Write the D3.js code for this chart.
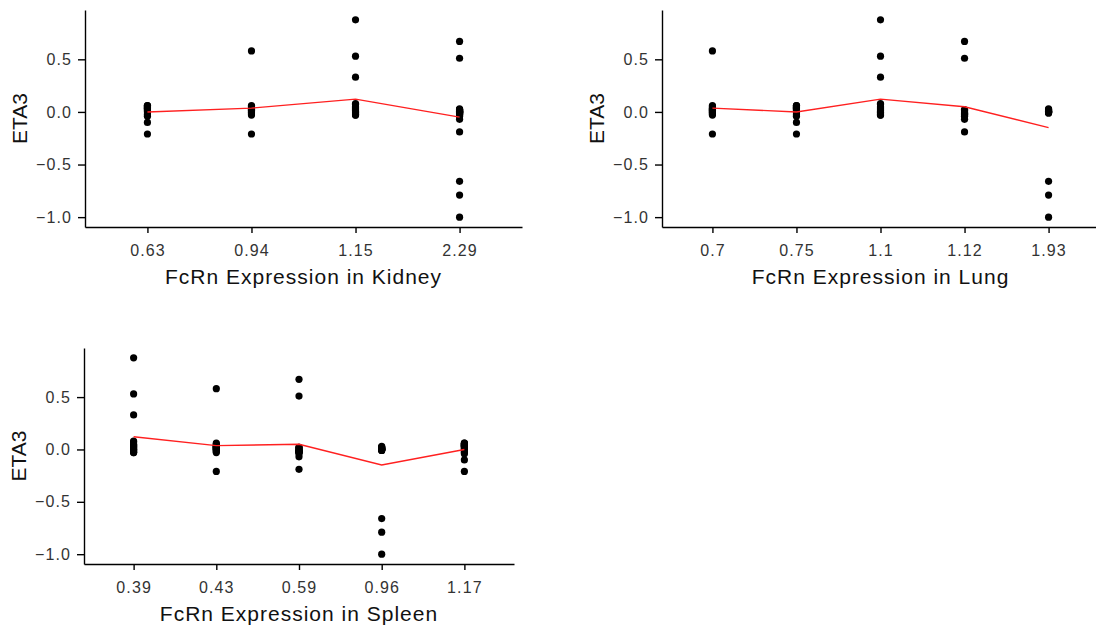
<!DOCTYPE html>
<html>
<head>
<meta charset="utf-8">
<script src="https://cdn.jsdelivr.net/npm/d3@7"></script>
<style>
  html, body { margin: 0; padding: 0; background: #fff; }
  svg { display: block; }
  text { font-family: "Liberation Sans", Arial, sans-serif; }
</style>
</head>
<body>
<svg id="chart" width="1096" height="631"></svg>
<script>
// ETA3 random effects for each of the five dosing groups
const eta3GroupA = [0.06, 0.06, 0.05, 0.05, 0.04, 0.04, 0.03, 0.03, 0.02, 0.01, 0.0, -0.02, -0.03, -0.04, -0.10, -0.21];
const eta3GroupB = [0.58, 0.06, 0.05, 0.04, 0.03, 0.03, 0.02, 0.02, 0.01, 0.01, 0.0, 0.0, -0.01, -0.02, -0.03, -0.21];
const eta3GroupC = [0.875, 0.53, 0.33, 0.08, 0.07, 0.05, 0.04, 0.03, 0.02, 0.01, 0.0, 0.0, -0.01, -0.02, -0.03, -0.03];
const eta3GroupD = [0.67, 0.51, 0.02, 0.02, 0.01, 0.0, -0.01, -0.01, -0.02, -0.02, -0.02, -0.03, -0.03, -0.04, -0.07, -0.19];
const eta3GroupE = [0.03, 0.02, 0.02, 0.01, 0.01, 0.0, 0.0, 0.0, 0.0, 0.0, 0.0, -0.01, -0.01, -0.66, -0.79, -1.0];
const eta3Groups = [eta3GroupA, eta3GroupB, eta3GroupC, eta3GroupD, eta3GroupE];

// FcRn expression of each group, per organ (used as discrete categories)
const kidneyExpr = ["0.63", "0.94", "1.15", "2.29", "2.29"];
const lungExpr   = ["0.75", "0.7", "1.1", "1.12", "1.93"];
const spleenExpr = ["1.17", "0.43", "0.39", "0.59", "0.96"];

// Category order on each x axis
const kidneyTicks = ["0.63", "0.94", "1.15", "2.29"];
const lungTicks   = ["0.7", "0.75", "1.1", "1.12", "1.93"];
const spleenTicks = ["0.39", "0.43", "0.59", "0.96", "1.17"];

const yTicks = [0.5, 0.0, -0.5, -1.0];

const svg = d3.select("#chart");

const panels = [
  { organ: "Kidney", expr: kidneyExpr, ticks: kidneyTicks, l: 85,  t: 10,  r: 522,  b: 227 },
  { organ: "Lung",   expr: lungExpr,   ticks: lungTicks,   l: 662, t: 10,  r: 1099, b: 227 },
  { organ: "Spleen", expr: spleenExpr, ticks: spleenTicks, l: 84,  t: 348, r: 514,  b: 564 }
];

// shared y range: data extent with 5% expansion
const allEta = eta3Groups.flat();
const [yMin, yMax] = d3.extent(allEta);
const pad = (yMax - yMin) * 0.05;

panels.forEach(p => {
  const points = [];
  eta3Groups.forEach((vals, gi) => {
    vals.forEach(v => points.push({ cat: p.expr[gi], eta: v }));
  });

  const x = d3.scalePoint().domain(p.ticks).range([p.l, p.r]).padding(0.6);
  const y = d3.scaleLinear().domain([yMin - pad, yMax + pad]).range([p.b, p.t]);

  const g = svg.append("g");

  // points
  g.append("g").selectAll("circle")
    .data(points)
    .join("circle")
    .attr("cx", d => x(d.cat))
    .attr("cy", d => y(d.eta))
    .attr("r", 3.6)
    .attr("fill", "#000");

  // mean per category
  const means = p.ticks.map(c => ({
    cat: c,
    m: d3.mean(points.filter(d => d.cat === c), d => d.eta)
  }));
  g.append("path")
    .datum(means)
    .attr("fill", "none")
    .attr("stroke", "#ff2020")
    .attr("stroke-width", 1.4)
    .attr("d", d3.line().x(d => x(d.cat)).y(d => y(d.m)));

  // axes
  const xAxis = g.append("g")
    .attr("transform", `translate(0,${p.b})`)
    .call(d3.axisBottom(x).tickSize(6).tickSizeOuter(0).tickPadding(12));
  const yAxis = g.append("g")
    .attr("transform", `translate(${p.l},0)`)
    .call(d3.axisLeft(y).tickValues(yTicks).tickFormat(d3.format(".1f")).tickSize(7).tickSizeOuter(0).tickPadding(6));

  [xAxis, yAxis].forEach(a => {
    a.select(".domain").attr("stroke", "#000").attr("stroke-width", 1.4);
    a.selectAll(".tick line").attr("stroke", "#000").attr("stroke-width", 1.4);
    a.selectAll(".tick text")
      .attr("fill", "#333")
      .style("font-size", "16px")
      .style("letter-spacing", "1.1px")
      .style("font-family", "'Liberation Sans', Arial, sans-serif");
  });

  // axis titles
  g.append("text")
    .attr("x", (p.l + p.r) / 2)
    .attr("y", p.b + 56.5)
    .attr("text-anchor", "middle")
    .style("font-size", "21px")
    .style("letter-spacing", "1px")
    .attr("fill", "#111")
    .text(`FcRn Expression in ${p.organ}`);

  g.append("text")
    .attr("transform", `translate(${p.l - 58},${(p.t + p.b) / 2}) rotate(-90)`)
    .attr("text-anchor", "middle")
    .style("font-size", "21px")
    .attr("fill", "#111")
    .text("ETA3");
});
</script>
</body>
</html>
